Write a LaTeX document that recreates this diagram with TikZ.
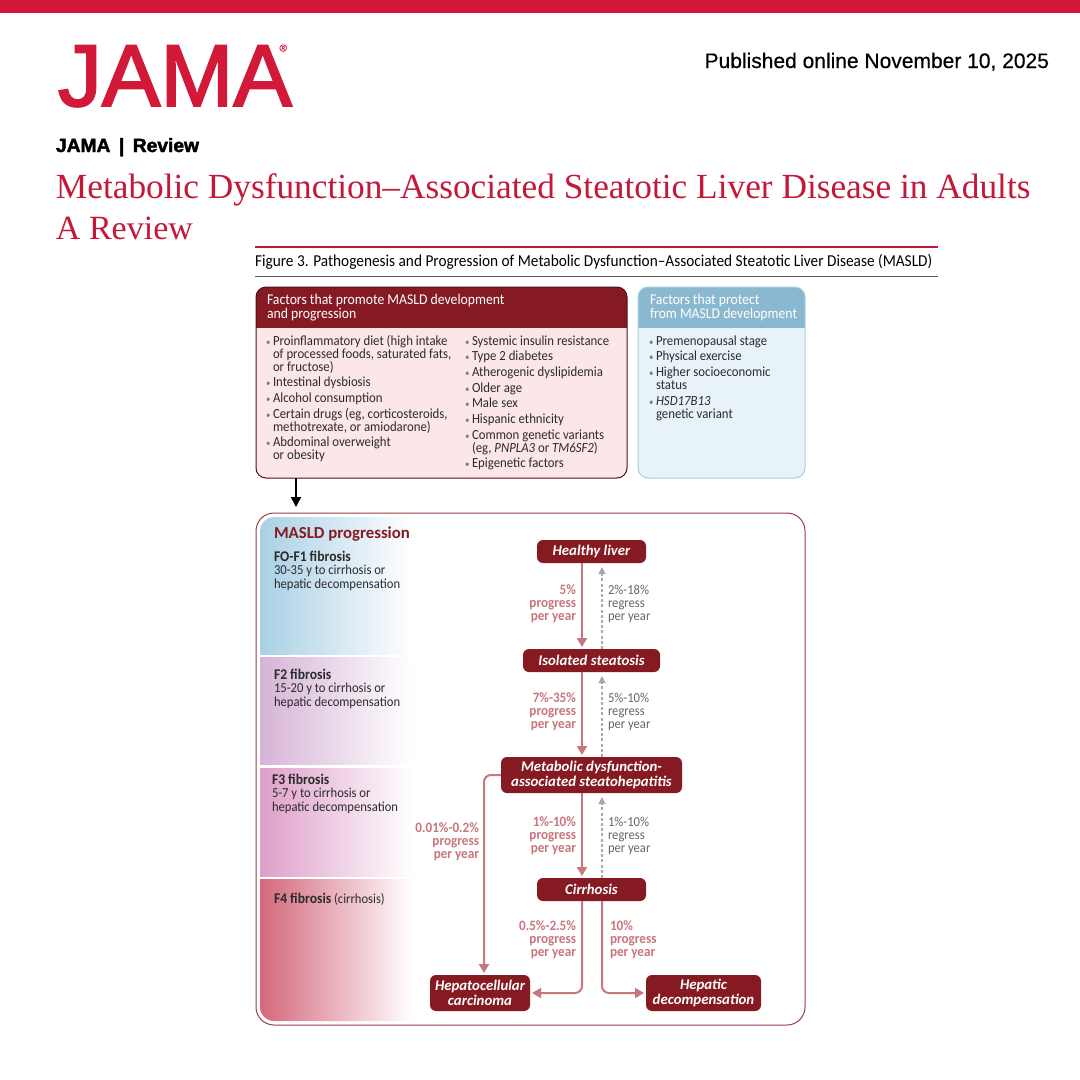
\documentclass[tikz,border=0pt]{standalone}
\usepackage{fontspec}
\usepackage{xcolor}
\usetikzlibrary{positioning, calc, arrows.meta}
\setmainfont{Carlito}[FakeStretch=0.92]
\newfontfamily\stagefont{Carlito}
\newfontfamily\titlefont{Liberation Serif}
\newfontfamily\logofont{Liberation Sans}[FakeBold=2.2]
\newfontfamily\headfont{Liberation Sans}[FakeBold=0.4]
\definecolor{jamaRed}{HTML}{D3193A}
\definecolor{titleRed}{HTML}{C4183A}
\definecolor{boxRed}{HTML}{861A22}
\definecolor{promoteFill}{HTML}{FDE6E7}
\definecolor{protectBlue}{HTML}{8AB8D1}
\definecolor{protectFill}{HTML}{E8F3F9}
\definecolor{protectEdge}{HTML}{A9CFDC}
\definecolor{progRed}{HTML}{C9757C}
\definecolor{regressGray}{HTML}{A8A8A8}
\definecolor{bodyGray}{HTML}{2B2B2B}
\definecolor{bandBlue}{HTML}{A9D0E5}
\definecolor{bandViolet}{HTML}{D6B4D6}
\definecolor{bandPink}{HTML}{DE9FC9}
\definecolor{bandRed}{HTML}{D4687C}
\newcommand{\bul}{\llap{\textcolor{gray}{\scalebox{0.7}{\textbullet}}\,}}
\newcommand{\px}[2]{\fontsize{#1}{#2}\selectfont}

\begin{document}
\begin{tikzpicture}[
  x=1pt, y=-1pt,
  every node/.style={inner sep=0pt, outer sep=0pt},
  heading/.style={anchor=base west},
  box/.style={draw, anchor=north west, rounded corners=10pt},
  stage/.style={fill=boxRed, text=white, rounded corners=6pt, align=center,
                font=\px{14.8}{15.5}\stagefont\bfseries\itshape},
  factors/.style={anchor=north west, align=left, text=bodyGray, font=\px{13.9}{13}},
  fibrosis/.style={anchor=north west, align=left, text=bodyGray, font=\px{13.7}{14}},
  prog/.style={draw=progRed, line width=2pt, -{Triangle[length=9pt,width=10pt]}, shorten >=2pt},
  regress/.style={draw=regressGray, line width=1.2pt, dash pattern=on 3pt off 2.2pt,
                  -{Triangle[length=7pt,width=7pt]}, shorten >=4pt},
  proglabel/.style={anchor=north east, align=right, text=progRed, font=\px{14.3}{13}\bfseries},
  reglabel/.style={anchor=north west, align=left, text=black!60, font=\px{13.7}{13}},
]
  \useasboundingbox (0,0) rectangle (1080,1080);

  % Page header
  \fill[jamaRed] (0,0) rectangle (1080,13);
  \node[heading, text=jamaRed, font=\px{87.7}{88}\logofont] (logo) at (58,106)
    {JAMA\llap{\raisebox{54.5pt}{\px{10}{10}\headfont®}\kern5pt}};
  \node[anchor=base east, font=\px{21}{22}\headfont] (published) at (1049,68) {Published online November 10, 2025};
  \node[heading, font=\px{19.2}{22}\logofont\bfseries] (kicker) at (56,152) {JAMA\, |\, Review};
  \node[heading, text=titleRed, font=\px{35.3}{36}\titlefont] (title) at (56,198)
    {Metabolic Dysfunction–Associated Steatotic Liver Disease in Adults};
  \node[heading, text=titleRed, font=\px{34}{36}\titlefont] (subtitle) at (56,239) {A Review};

  % Figure caption
  \draw[titleRed, line width=2.6pt] (255,247) -- (938,247);
  \node[heading, font=\px{16.65}{16}] (caption) at (255,266)
    {Figure 3. Pathogenesis and Progression of Metabolic Dysfunction–Associated Steatotic Liver Disease (MASLD)};
  \draw[black!65, line width=1pt] (255,276) -- (938,276);

  % Factor boxes
  \node[box, draw=none, fill=promoteFill, minimum width=371pt, minimum height=191pt]
    (promote) at (256,287) {};
  \begin{scope}
    \clip[rounded corners=10pt] (promote.north west) rectangle (promote.south east);
    \fill[boxRed] (256,287) rectangle (627,328);
  \end{scope}
  \draw[boxRed!60!black, line width=1pt, rounded corners=10pt] (promote.north west) rectangle (promote.south east);
  \node[box, draw=none, fill=protectFill, minimum width=167pt, minimum height=191pt]
    (protect) at (638,287) {};
  \begin{scope}
    \clip[rounded corners=10pt] (protect.north west) rectangle (protect.south east);
    \fill[protectBlue] (638,287) rectangle (805,328);
  \end{scope}
  \draw[protectEdge, line width=1pt, rounded corners=10pt] (protect.north west) rectangle (protect.south east);

  \node[anchor=north west, align=left, text=white, font=\px{14.9}{14}] (promotehead) at (267,294)
    {Factors that promote MASLD development\\and progression};
  \node[anchor=north west, align=left, text=white, font=\px{14.9}{14}] (protecthead) at (650,294)
    {Factors that protect\\from MASLD development};

  \node[factors] (promoteleft) at (273,335.5) {%
    \bul Proinflammatory diet (high intake\\
    of processed foods, saturated fats,\\
    or fructose)\\[2.3pt]
    \bul Intestinal dysbiosis\\[2.7pt]
    \bul Alcohol consumption\\[2.7pt]
    \bul Certain drugs (eg, corticosteroids,\\
    methotrexate, or amiodarone)\\[2.2pt]
    \bul Abdominal overweight\\
    or obesity};
  \node[factors] (promoteright) at (472,335.5) {%
    \bul Systemic insulin resistance\\[2.7pt]
    \bul Type 2 diabetes\\[2.7pt]
    \bul Atherogenic dyslipidemia\\[2.7pt]
    \bul Older age\\[2.7pt]
    \bul Male sex\\[2.7pt]
    \bul Hispanic ethnicity\\[2.7pt]
    \bul Common genetic variants\\
    (eg, \textit{PNPLA3} or \textit{TM6SF2})\\[2.2pt]
    \bul Epigenetic factors};
  \node[factors] (protectlist) at (656,335.5) {%
    \bul Premenopausal stage\\[2.7pt]
    \bul Physical exercise\\[2.7pt]
    \bul Higher socioeconomic\\
    status\\[2.5pt]
    \bul \textit{HSD17B13}\\
    genetic variant};

  \coordinate (entry) at (296,507);
  \draw[black, line width=1.6pt, -{Triangle[length=10pt,width=10pt]}] (promote.south -| entry) -- (entry);

  % MASLD progression box with fibrosis bands
  \begin{scope}
    \clip[rounded corners=14pt] (260,517) rectangle (801,1021);
    \shade[left color=bandBlue, right color=white] (260,517) rectangle (412,654);
    \shade[left color=bandViolet, right color=white] (260,657) rectangle (412,764);
    \shade[left color=bandPink, right color=white] (260,768) rectangle (412,876);
    \shade[left color=bandRed, right color=white] (260,879) rectangle (412,1021);
  \end{scope}
  \node[box, draw=boxRed!85, line width=1pt, rounded corners=18pt, minimum width=549pt, minimum height=512pt]
    (progression) at (256,513) {};

  \node[anchor=base west, text=boxRed, font=\px{16.8}{16}\stagefont\bfseries] (progtitle) at (274,538) {MASLD progression};
  \node[fibrosis] (fzero) at (274,551) {{\px{14.8}{14}\bfseries FO-F1 fibrosis}\\[-1pt]30-35 y to cirrhosis or\\hepatic decompensation};
  \node[fibrosis] (ftwo) at (274,669) {{\px{14.8}{14}\bfseries F2 fibrosis}\\[-1pt]15-20 y to cirrhosis or\\hepatic decompensation};
  \node[fibrosis] (fthree) at (272,774) {{\px{14.8}{14}\bfseries F3 fibrosis}\\[-1pt]5-7 y to cirrhosis or\\hepatic decompensation};
  \node[fibrosis] (ffour) at (274,893) {{\px{14.8}{14}\bfseries F4 fibrosis} (cirrhosis)};

  % Stages
  \node[stage, minimum width=109pt, minimum height=23pt] (healthy) at (591.5,551.5) {Healthy liver};
  \node[stage, minimum width=137pt, minimum height=23pt] (steatosis) at (591.5,660.5) {Isolated steatosis};
  \node[stage, minimum width=181pt, minimum height=36pt] (mash) at (591.5,775)
    {Metabolic dysfunction-\\associated steatohepatitis};
  \node[stage, minimum width=109pt, minimum height=23pt] (cirrhosis) at (591.5,889.5) {Cirrhosis};
  \node[stage, minimum width=100pt, minimum height=36pt] (hcc) at (480,993) {Hepatocellular\\carcinoma};
  \node[stage, minimum width=115pt, minimum height=36pt] (decomp) at (703.5,993) {Hepatic\\decompensation};

  % Connectors
  \coordinate (progline) at (582,0);
  \coordinate (regline) at (602,0);
  \coordinate (sideline) at (484,0);
  \draw[prog] (healthy.south -| progline) -- (steatosis.north -| progline);
  \draw[prog] (steatosis.south -| progline) -- (mash.north -| progline);
  \draw[prog] (mash.south -| progline) -- (cirrhosis.north -| progline);
  \draw[regress] (steatosis.north -| regline) -- (healthy.south -| regline);
  \draw[regress] (mash.north -| regline) -- (steatosis.south -| regline);
  \draw[regress] (cirrhosis.north -| regline) -- (mash.south -| regline);
  \draw[prog, rounded corners=7pt] (mash.west) -- (mash.west -| sideline) -- (hcc.north -| sideline);
  \draw[prog, rounded corners=7pt] (cirrhosis.south -| progline) -- (hcc.east -| progline) -- (hcc.east);
  \draw[prog, rounded corners=7pt] (cirrhosis.south -| regline) -- (decomp.west -| regline) -- (decomp.west);

  % Rates
  \node[proglabel] (rateone) at (576,585) {5\%\\progress\\per year};
  \node[reglabel] (backone) at (608,585) {2\%-18\%\\regress\\per year};
  \node[proglabel] (ratetwo) at (576,693) {7\%-35\%\\progress\\per year};
  \node[reglabel] (backtwo) at (608,693) {5\%-10\%\\regress\\per year};
  \node[proglabel] (ratethree) at (576,817) {1\%-10\%\\progress\\per year};
  \node[reglabel] (backthree) at (608,817) {1\%-10\%\\regress\\per year};
  \node[proglabel] (rateside) at (479,823) {0.01\%-0.2\%\\progress\\per year};
  \node[proglabel] (ratehcc) at (576,921) {0.5\%-2.5\%\\progress\\per year};
  \node[anchor=north west, align=left, text=progRed, font=\px{14.3}{13}\bfseries] (ratedecomp) at (610,921) {10\%\\progress\\per year};
\end{tikzpicture}
\end{document}
